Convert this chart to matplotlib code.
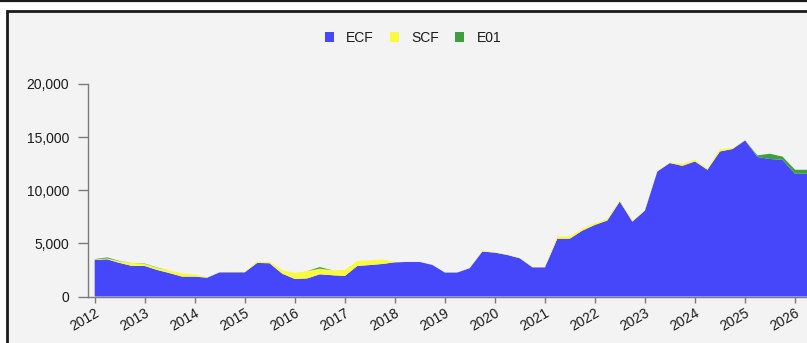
"""Quarterly stacked area chart of ECF / SCF / E01 volumes."""

import matplotlib
matplotlib.use('Agg')
import matplotlib.pyplot as plt
import matplotlib.dates as mdates
from matplotlib.patches import Rectangle
from matplotlib.lines import Line2D
import pandas as pd

# Quarter starts, 2012 Q1 .. 2026 Q2
quarters = pd.date_range('2012-01-01', periods=58, freq='QS')

ecf = [
    3440, 3500, 3160, 2870,
    2870, 2500, 2200, 1870,
    1870, 1770, 2280, 2280,
    2280, 3160, 3130, 2150,
    1650, 1700, 2090, 2000,
    1930, 2870, 2960, 3060,
    3220, 3250, 3250, 2970,
    2250, 2250, 2660, 4230,
    4130, 3910, 3600, 2750,
    2750, 5440, 5440, 6200,
    6740, 7150, 8940, 7050,
    8090, 11770, 12560, 12300,
    12710, 11930, 13650, 13880,
    14690, 13130, 12940, 12870,
    11550, 11550,
]
scf = [
    50, 80, 150, 300,
    190, 200, 250, 320,
    200, 40, 30, 40,
    50, 130, 130, 330,
    570, 690, 530, 470,
    570, 470, 440, 440,
    60, 0, 0, 0,
    0, 0, 0, 80,
    50, 50, 50, 30,
    30, 220, 220, 160,
    150, 150, 100, 80,
    50, 50, 60, 190,
    150, 100, 220, 100,
    0, 0, 0, 0,
    0, 0,
]
e01 = [
    30, 100, 30, 0,
    40, 30, 0, 0,
    0, 0, 0, 0,
    0, 0, 0, 0,
    0, 0, 150, 0,
    0, 0, 0, 0,
    0, 0, 0, 0,
    0, 0, 0, 0,
    0, 0, 0, 0,
    0, 0, 0, 0,
    0, 0, 0, 0,
    0, 0, 0, 0,
    0, 0, 0, 0,
    0, 150, 500, 300,
    380, 380,
]

series_names = ['ECF', 'SCF', 'E01']
series_colors = ['#4646fa', '#fafa3c', '#3f9f3f']

PANEL_BG = '#f3f3f3'
AXIS_GREY = '#7a7a7a'
TEXT = '#1a1a1a'

plt.rcParams['font.family'] = ['Liberation Sans', 'DejaVu Sans']

W, H = 807, 343
fig = plt.figure(figsize=(W / 100, H / 100), dpi=100)
fig.patch.set_facecolor('white')

# Panel frame and the rule above it
fig.add_artist(Rectangle((7 / W, -0.05), 1.0, (H - 11) / H + 0.05,
                         transform=fig.transFigure, facecolor=PANEL_BG,
                         edgecolor='#1a1a1a', linewidth=2, zorder=0))
fig.add_artist(Line2D([0, 1], [1 - 0.8 / H, 1 - 0.8 / H], transform=fig.transFigure,
                      color='#1a1a1a', linewidth=1.6))

left, right = 88 / W, 810 / W
bottom, top = 1 - 296.5 / H, 1 - 84 / H
ax = fig.add_axes([left, bottom, right - left, top - bottom])
ax.set_facecolor('none')

ax.stackplot(quarters, ecf, scf, e01, colors=series_colors, labels=series_names,
             linewidth=0)

ax.set_ylim(0, 20000)
ax.set_xlim(pd.Timestamp('2011-11-13'), pd.Timestamp('2026-04-20'))
ax.set_yticks([0, 5000, 10000, 15000, 20000])
ax.yaxis.set_major_formatter(matplotlib.ticker.FuncFormatter(lambda v, p: f'{int(v):,}'))
ax.xaxis.set_major_locator(mdates.YearLocator())
ax.xaxis.set_major_formatter(mdates.DateFormatter('%Y'))

for side in ('top', 'right'):
    ax.spines[side].set_visible(False)
for side in ('left', 'bottom'):
    ax.spines[side].set_color(AXIS_GREY)
    ax.spines[side].set_linewidth(1)

ax.tick_params(axis='y', length=7.5, width=1, color=AXIS_GREY, labelsize=10,
               labelcolor=TEXT, pad=6)
ax.tick_params(axis='x', length=4, width=1, color=AXIS_GREY, labelsize=10,
               labelcolor=TEXT, pad=3)
plt.setp(ax.get_xticklabels(), rotation=30, ha='right', rotation_mode='anchor')

handles = [Rectangle((0, 0), 1, 1, facecolor=c, edgecolor='none') for c in series_colors]
fig.legend(handles, series_names, loc='center', bbox_to_anchor=(413 / W, 1 - 38 / H),
           ncol=3, frameon=False, fontsize=10, labelcolor=TEXT,
           handlelength=0.65, handleheight=0.65, handletextpad=0.9,
           columnspacing=1.15)

fig.savefig('out.png', dpi=100, facecolor='white')
